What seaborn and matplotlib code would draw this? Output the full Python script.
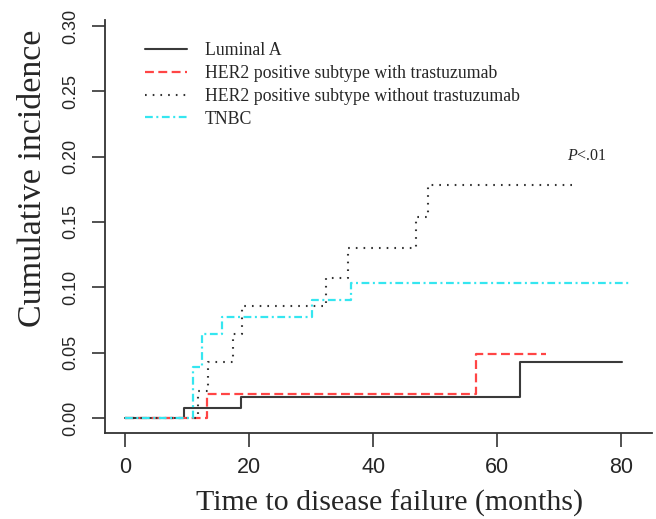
import numpy as np
import pandas as pd
import matplotlib
matplotlib.use('Agg')
import matplotlib.pyplot as plt
import seaborn as sns

# cumulative incidence step functions
lumA_t = [0, 9.5, 18.7, 63.7, 80.2]
lumA_ci = [0, 0.008, 0.016, 0.043, 0.043]

her2_tz_t = [0, 13.1, 56.6, 67.9]
her2_tz_ci = [0, 0.018, 0.049, 0.049]

her2_notz_t = [0, 11.8, 13.4, 17.3, 18.8, 32.4, 36.0, 47.0, 48.9, 72.5]
her2_notz_ci = [0, 0.021, 0.043, 0.064, 0.086, 0.107, 0.130, 0.154, 0.178, 0.178]

tnbc_t = [0, 10.9, 12.4, 15.6, 30.1, 36.5, 81.5]
tnbc_ci = [0, 0.039, 0.064, 0.077, 0.090, 0.103, 0.103]

groups = ["Luminal A",
          "HER2 positive subtype with trastuzumab",
          "HER2 positive subtype without trastuzumab",
          "TNBC"]
x_ticks = [0, 20, 40, 60, 80]
y_ticks = [0.00, 0.05, 0.10, 0.15, 0.20, 0.25, 0.30]

sns.set_style('ticks')
plt.rcParams['font.family'] = ['Liberation Serif', 'DejaVu Serif']
plt.rcParams['mathtext.fontset'] = 'custom'
plt.rcParams['mathtext.rm'] = 'Liberation Serif'
plt.rcParams['mathtext.it'] = 'Liberation Serif:italic'

series = [(lumA_t, lumA_ci), (her2_tz_t, her2_tz_ci),
          (her2_notz_t, her2_notz_ci), (tnbc_t, tnbc_ci)]
styles = [
    dict(color='#3a3a3a', lw=1.5, ls='-'),
    dict(color='#ff4545', lw=1.6, ls=(0, (4.0, 2.0))),
    dict(color='#333333', lw=1.5, ls=(0, (0.8, 2.9))),
    dict(color='#35e6f0', lw=1.6, ls=(0, (3.5, 1.6, 0.9, 1.6))),
]

fig = plt.figure(figsize=(6.56, 5.19), dpi=100)
ax = fig.add_axes([105 / 656, 1 - 433 / 519, (651.7 - 105) / 656, (433 - 20) / 519])

for (t, ci), name, st in zip(series, groups, styles):
    df = pd.DataFrame({'time': t, 'ci': ci})
    sns.lineplot(data=df, x='time', y='ci', ax=ax, drawstyle='steps-post',
                 color=st['color'], linewidth=st['lw'], linestyle=st['ls'],
                 label=name, legend=False)

ax.set_xlim(-3.3, 85.0)
ax.set_ylim(-0.0115, 0.3046)
ax.set_xticks(x_ticks)
ax.set_yticks(y_ticks)
ax.set_xticklabels([str(v) for v in x_ticks], fontfamily='Liberation Sans', fontsize=15.5)
ax.set_yticklabels(['%.2f' % v for v in y_ticks], fontfamily='Liberation Sans',
                   fontsize=13, rotation=90, va='center')
ax.tick_params(axis='x', length=10, width=1.2, pad=7, color='#333333')
ax.tick_params(axis='y', length=9.5, width=1.2, pad=9, color='#333333')
sns.despine(ax=ax)
for s in ['left', 'bottom']:
    ax.spines[s].set_linewidth(1.3)
    ax.spines[s].set_color('#333333')

ax.set_xlabel('Time to disease failure (months)', fontsize=21.5)
ax.xaxis.label.set_va('baseline')
ax.xaxis.set_label_coords(0.52, -0.189)
ax.set_ylabel('Cumulative incidence', fontsize=24.5)
ax.yaxis.label.set_va('center')
ax.yaxis.set_label_coords(-0.132, 0.616)

ax.text(71.3, 0.2008, r'$P$<.01', fontsize=11.5, ha='left', va='center')

ax.legend(loc='upper left', bbox_to_anchor=(145 / 656, 1 - 42 / 519),
          bbox_transform=fig.transFigure, frameon=False, fontsize=12.8,
          handlelength=2.36, handletextpad=1.0, labelspacing=0.33,
          borderpad=0, borderaxespad=0)

fig.savefig('out.png', dpi=100)
